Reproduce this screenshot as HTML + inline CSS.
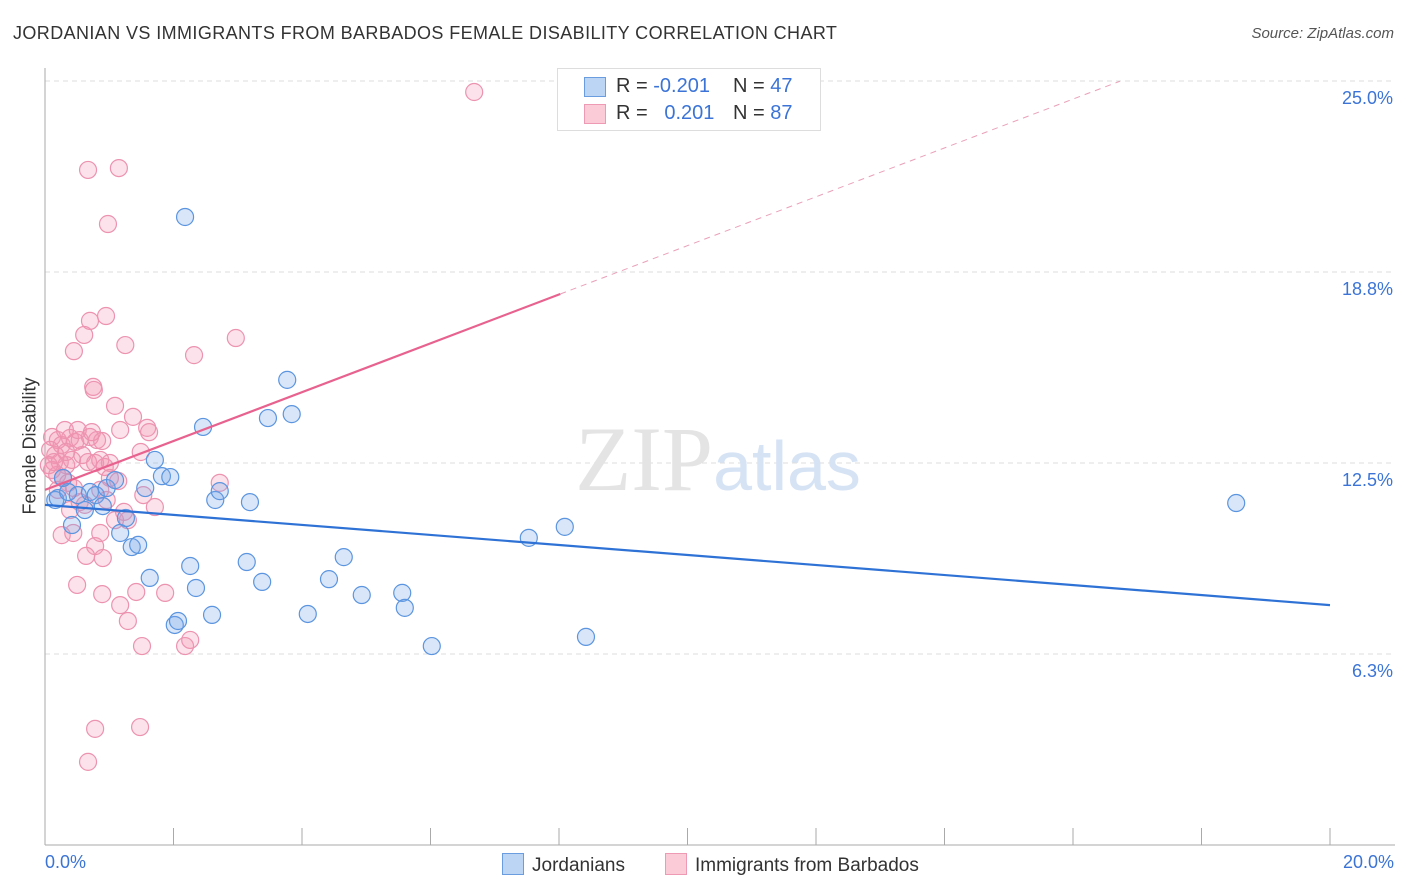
<!DOCTYPE html>
<html><head><meta charset="utf-8">
<style>
body{margin:0;background:#fff;font-family:"Liberation Sans",sans-serif;}
#wrap{position:relative;width:1406px;height:892px;overflow:hidden;}
.t{position:absolute;white-space:nowrap;}
</style></head>
<body>
<div id="wrap">
<div class="t" style="left:13px;top:23px;font-size:18px;color:#333;letter-spacing:0.4px">JORDANIAN VS IMMIGRANTS FROM BARBADOS FEMALE DISABILITY CORRELATION CHART</div>
<div class="t" style="right:12px;top:25px;font-size:15px;color:#555;font-style:italic">Source: ZipAtlas.com</div>
<svg id="svg" width="1406" height="892" style="position:absolute;left:0;top:0"></svg>
</div>
<script>
const yTicks=[25,18.75,12.5,6.25];
const yTickLabels=["25.0%","18.8%","12.5%","6.3%"];
const xTicks=[0,2,4,6,8,10,12,14,16,18,20];
const blueX=[0.16,0.20,0.36,0.42,0.51,0.62,0.70,0.79,0.90,0.96,1.09,1.17,1.26,1.35,1.45,1.56,1.63,1.71,1.82,1.95,2.02,2.07,2.18,2.26,2.35,2.46,2.60,2.65,2.72,3.14,3.19,3.38,3.47,3.77,3.84,4.09,4.42,4.65,4.93,5.56,5.60,6.02,7.53,8.09,8.42,18.54,0.28];
const blueY=[11.29,11.35,11.55,10.47,11.45,10.96,11.55,11.45,11.09,11.68,11.94,10.21,10.70,9.75,9.82,11.68,8.74,12.60,12.07,12.04,7.20,7.33,20.55,9.13,8.41,13.68,7.53,11.29,11.58,9.26,11.22,8.61,13.97,15.22,14.10,7.56,8.70,9.42,8.18,8.25,7.76,6.51,10.05,10.41,6.81,11.19,12.01];
const pinkX=[6.68,0.67,1.15,0.98,0.70,0.95,0.61,0.45,1.25,2.32,2.97,0.75,0.76,1.09,1.37,1.59,1.62,1.17,0.11,0.20,0.26,0.39,0.47,0.54,0.70,0.81,0.89,0.16,0.23,0.33,0.42,0.58,0.67,0.78,0.86,0.93,0.11,0.19,0.28,0.36,0.45,0.08,0.14,1.49,1.01,1.14,2.72,0.26,0.39,0.44,0.54,0.62,0.78,0.86,0.90,1.09,1.23,1.29,1.71,1.53,0.50,0.64,0.89,1.17,1.29,1.42,1.87,1.51,2.18,2.26,0.78,1.48,0.67,0.20,0.31,0.51,0.73,0.33,0.06,1.01,0.86,0.96];
const pinkY=[24.64,22.09,22.15,20.32,17.15,17.31,16.69,16.16,16.36,16.03,16.59,14.99,14.89,14.37,14.01,13.65,13.51,13.58,13.35,13.25,13.09,13.32,13.19,13.25,13.35,13.25,13.22,12.76,12.53,12.43,12.60,12.76,12.53,12.50,12.60,12.37,12.27,12.11,12.01,11.85,11.68,12.93,12.53,12.86,12.01,11.91,11.85,10.14,10.96,10.21,11.22,11.13,9.78,10.21,9.39,10.63,10.90,10.63,11.06,11.45,8.51,9.46,8.21,7.85,7.33,8.28,8.25,6.51,6.51,6.71,3.80,3.86,2.72,11.62,13.58,13.58,13.51,12.86,12.43,12.50,11.62,11.29];
const blueLine=[11.13,7.85];
const pinkLine=[11.62,18.03,8.02];
const pinkDashEnd=16.73;

const NS="http://www.w3.org/2000/svg";
const svg=document.getElementById('svg');
const X=v=>45+v*64.25;
const Y=v=>845-v*30.56;
function mk(tag,attrs,parent){const e=document.createElementNS(NS,tag);for(const k in attrs)e.setAttribute(k,attrs[k]);(parent||svg).appendChild(e);return e;}

yTicks.forEach((t,i)=>{
  const g=mk('line',{x1:45,x2:1395,y1:Y(t),y2:Y(t),stroke:'#ddd','stroke-dasharray':'5,4'});
  
  
  const tx=mk('text',{x:1393,y:Y(t)+23,'text-anchor':'end','font-size':18,fill:'#3b74d6','font-family':'Liberation Sans'});
  tx.textContent=yTickLabels[i];
  
  
});
const ax=mk('line',{x1:45,x2:45,y1:68,y2:845,stroke:'#aaa'});


const bx=mk('line',{x1:45,x2:1395,y1:845,y2:845,stroke:'#aaa'});


xTicks.forEach(t=>{
  const l=mk('line',{x1:X(t),x2:X(t),y1:828,y2:845,stroke:'#aaa'});
  
  
});
const wm=mk('text',{x:718,y:490,'text-anchor':'middle','font-size':92,'font-family':'Liberation Serif',fill:'#e4e4e4'});
wm.innerHTML='ZIP<tspan fill="#d6e3f5" font-family="Liberation Sans" font-size="70">atlas</tspan>';



pinkX.forEach((x,i)=>{
  const c=mk('circle',{cx:X(x),cy:Y(pinkY[i]),r:8.5,fill:'rgba(244,150,180,0.28)',stroke:'#ec93b0','stroke-width':1.2});
  
  
});
blueX.forEach((x,i)=>{
  const c=mk('circle',{cx:X(x),cy:Y(blueY[i]),r:8.5,fill:'rgba(120,165,235,0.28)',stroke:'#5b95e0','stroke-width':1.2});
  
  
});
const bl=mk('line',{x1:X(0),y1:Y(blueLine[0]),x2:X(20),y2:Y(blueLine[1]),stroke:'#2f72d6','stroke-width':2.2});


const pl=mk('line',{x1:X(0),y1:Y(pinkLine[0]),x2:X(pinkLine[2]),y2:Y(pinkLine[1]),stroke:'#e8628f','stroke-width':2.2});


const slope=(pinkLine[1]-pinkLine[0])/pinkLine[2];
const pd=mk('line',{x1:X(pinkLine[2]),y1:Y(pinkLine[1]),x2:X(pinkDashEnd),y2:Y(pinkLine[0]+slope*pinkDashEnd),stroke:'#eaa0b8','stroke-width':1,'stroke-dasharray':'6,5'});


</script>
<div class="t" style="left:-30px;top:444px;font-size:18px;color:#333;transform:rotate(-90deg);width:120px;text-align:center">Female Disability</div>
<div class="t" style="left:45px;top:852px;font-size:18px;color:#3b74d6">0.0%</div>
<div class="t" style="right:12px;top:852px;font-size:18px;color:#3b74d6">20.0%</div>
<div style="position:absolute;left:557px;top:68px;width:262px;height:61px;border:1px solid #ddd;background:#fff;font-size:20px">
  <div style="position:absolute;left:26px;top:8px;width:20px;height:18px;background:#bcd5f5;border:1px solid #6a9de0"></div>
  <div class="t" style="left:58px;top:6px;color:#333">R = <span style="color:#3b74d6">-0.201</span></div>
  <div class="t" style="left:175px;top:6px;color:#333">N = <span style="color:#3b74d6">47</span></div>
  <div style="position:absolute;left:26px;top:35px;width:20px;height:18px;background:#fbcbd8;border:1px solid #ee9ab4"></div>
  <div class="t" style="left:58px;top:33px;color:#333">R = &nbsp;&nbsp;<span style="color:#3b74d6">0.201</span></div>
  <div class="t" style="left:175px;top:33px;color:#333">N = <span style="color:#3b74d6">87</span></div>
</div>
<div style="position:absolute;left:502px;top:853px;font-size:19px;color:#333">
  <span style="display:inline-block;width:20px;height:20px;background:#bcd5f5;border:1px solid #6a9de0;vertical-align:-4px;margin-right:8px"></span>Jordanians</div>
<div style="position:absolute;left:665px;top:853px;font-size:19px;color:#333">
  <span style="display:inline-block;width:20px;height:20px;background:#fbcbd8;border:1px solid #ee9ab4;vertical-align:-4px;margin-right:8px"></span>Immigrants from Barbados</div>
</body></html>
